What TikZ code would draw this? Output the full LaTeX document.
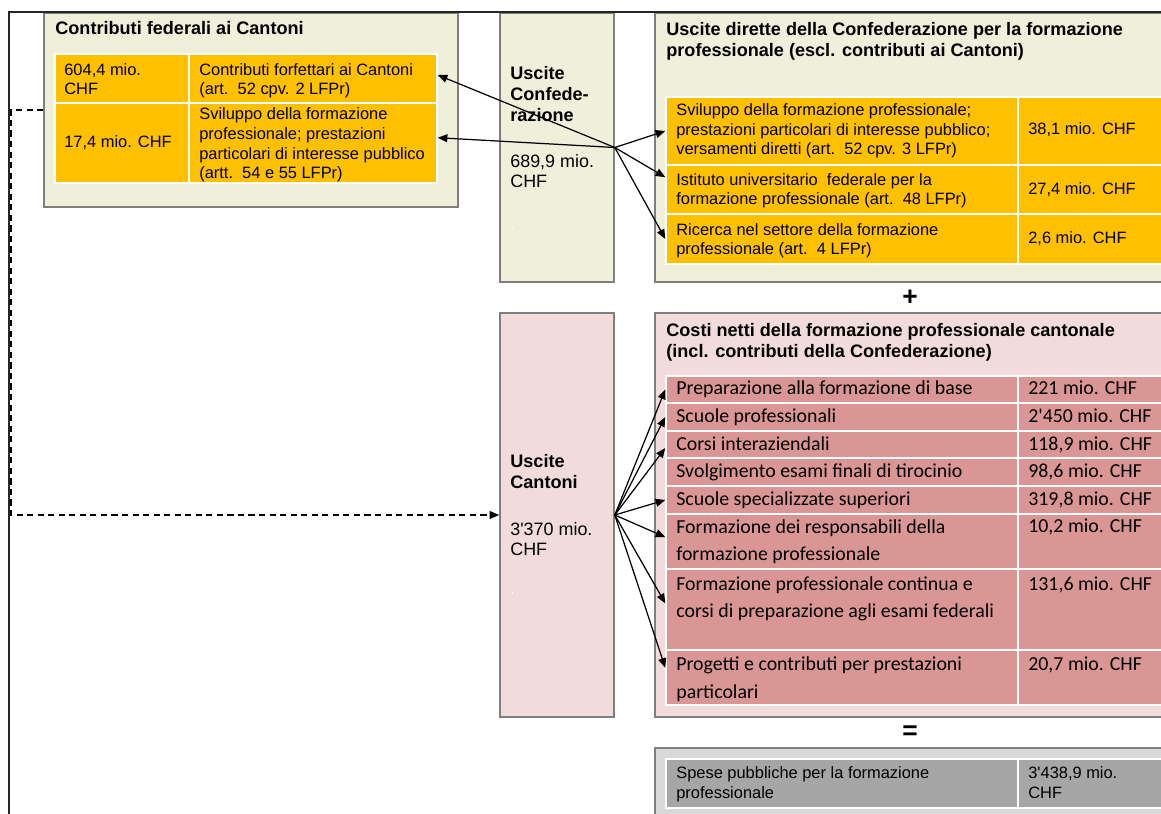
\documentclass[tikz,border=0pt]{standalone}
\usepackage{fontspec}
\setmainfont{Liberation Sans}
\newfontfamily\calibri{Carlito}
\usepackage{tikz}
\usetikzlibrary{positioning, fit, arrows.meta, calc}
\definecolor{fedfill}{HTML}{EFEFDA}
\definecolor{cantfill}{HTML}{F2DCDB}
\definecolor{totfill}{HTML}{D9D9D9}
\definecolor{orangecell}{HTML}{FFC000}
\definecolor{rosecell}{HTML}{DA9694}
\definecolor{graycell}{HTML}{A6A6A6}
\definecolor{panelline}{HTML}{7F7F7F}

\begin{document}
\begin{tikzpicture}[
    x=0.02cm, y=-0.02cm,
    every node/.style={align=left},
    panel/.style={draw=panelline, line width=0.9pt, inner sep=0pt, fill=#1},
    cell/.style={draw=white, line width=0.8pt, inner sep=0pt, fill=#1},
    txt/.style={anchor=base west, inner sep=0pt, font=\fontsize{9.35}{11.34}\selectfont},
    head/.style={txt, font=\fontsize{10.3}{12.2}\selectfont\bfseries},
    sumtxt/.style={txt, font=\fontsize{10.2}{11.9}\selectfont},
    ctxt/.style={txt, font=\fontsize{11.3}{15.9}\calibri},
    arrow/.style={-{Triangle[length=5.5pt, width=4.5pt]}, line width=0.7pt},
    dashline/.style={arrow, dashed, dash pattern=on 3.5pt off 2.5pt}
]
\clip (0,0) rectangle (1161,814);

% Contributi federali ai Cantoni (Anker: Grundlinie der letzten Zeile)
\node[panel=fedfill, fit={(44,13) (458,207)}] (fed) {};
\node[head] (fedtitle) at (55,35) {Contributi federali ai Cantoni};
\node[cell=orangecell, fit={(55,54) (189,103)}] (fed1a) {};
\node[cell=orangecell, fit={(189,54) (437,103)}] (fed1b) {};
\node[cell=orangecell, fit={(55,103) (189,183)}] (fed2a) {};
\node[cell=orangecell, fit={(189,103) (437,183)}] (fed2b) {};
\node[txt] (fed1val) at (64,95) {604,4 mio.\\CHF};
\node[txt] (fed1lab) at (199,95) {Contributi forfettari ai Cantoni\\(art.\ \ 52 cpv. 2 LFPr)};
\node[txt] (fed2val) at (64,148) {17,4 mio. CHF};
\node[txt] (fed2lab) at (199,179) {Sviluppo della formazione\\professionale; prestazioni\\particolari di interesse pubblico\\(artt.\ \ 54 e 55 LFPr)};

% Uscite Confederazione
\node[panel=fedfill, fit={(500,13) (614,282)}] (conf) {};
\node[head] (conftitle) at (510,122) {Uscite\\Confede-\\razione};
\node[sumtxt] (confval) at (510,188) {689,9 mio.\\CHF};
\node[txt, white] (confdot) at (510,229) {.};

% Uscite dirette della Confederazione
\node[panel=fedfill, fit={(655,13) (1180,282)}] (dir) {};
\node[head] (dirtitle) at (666,57) {Uscite dirette della Confederazione per la formazione\\professionale (escl. contributi ai Cantoni)};
\node[cell=orangecell, fit={(666,97) (1018,165)}] (dir1a) {};
\node[cell=orangecell, fit={(1018,97) (1175,165)}] (dir1b) {};
\node[cell=orangecell, fit={(666,165) (1018,214)}] (dir2a) {};
\node[cell=orangecell, fit={(1018,165) (1175,214)}] (dir2b) {};
\node[cell=orangecell, fit={(666,214) (1018,264)}] (dir3a) {};
\node[cell=orangecell, fit={(1018,214) (1175,264)}] (dir3b) {};
\node[txt] (dir1lab) at (676,155) {Sviluppo della formazione professionale;\\prestazioni particolari di interesse pubblico;\\versamenti diretti (art.\ \ 52 cpv. 3 LFPr)};
\node[txt] (dir1val) at (1028,135) {38,1 mio. CHF};
\node[txt] (dir2lab) at (676,205) {Istituto universitario\ \ federale per la\\formazione professionale (art.\ \ 48 LFPr)};
\node[txt] (dir2val) at (1028,195) {27,4 mio. CHF};
\node[txt] (dir3lab) at (676,255) {Ricerca nel settore della formazione\\professionale (art.\ \ 4 LFPr)};
\node[txt] (dir3val) at (1028,244) {2,6 mio. CHF};

\node[font=\fontsize{15}{15}\selectfont\bfseries, inner sep=0pt] (plus) at (910,298) {+};

% Uscite Cantoni
\node[panel=cantfill, fit={(500,313) (614,717)}] (cant) {};
\node[head] (canttitle) at (510,489) {Uscite\\Cantoni};
\node[sumtxt] (cantval) at (510,556) {3\textquotesingle370 mio.\\CHF};
\node[txt, white] (cantdot) at (510,595) {.};

% Costi netti della formazione professionale cantonale
\node[panel=cantfill, fit={(655,313) (1180,717)}] (net) {};
\node[head] (nettitle) at (666,358) {Costi netti della formazione professionale cantonale\\(incl. contributi della Confederazione)};
\foreach \i/\top/\bot/\base/\last/\lab/\val in {
    1/376/403/395/395/{Preparazione alla formazione di base}/{221 mio. CHF},
    2/403/431/423/423/{Scuole professionali}/{2\textquotesingle450 mio. CHF},
    3/431/458/451/451/{Corsi interaziendali}/{118,9 mio. CHF},
    4/458/486/478/478/{Svolgimento esami finali di tirocinio}/{98,6 mio. CHF},
    5/486/514/506/506/{Scuole specializzate superiori}/{319,8 mio. CHF},
    6/514/569/533/561/{Formazione dei responsabili della\\formazione professionale}/{10,2 mio. CHF},
    7/569/650/590/618/{Formazione professionale continua e\\corsi di preparazione agli esami federali}/{131,6 mio. CHF},
    8/650/705/670/698/{Progetti e contributi per prestazioni\\particolari}/{20,7 mio. CHF}}{
    \node[cell=rosecell, fit={(666,\top) (1018,\bot)}] (net\i a) {};
    \node[cell=rosecell, fit={(1018,\top) (1175,\bot)}] (net\i b) {};
    \node[ctxt] (net\i lab) at (676,\last) {\lab};
    \node[ctxt] (net\i val) at (1028,\base) {\val};
}

\node[font=\fontsize{15}{15}\selectfont\bfseries, inner sep=0pt] (eq) at (910,733) {=};

% Spese pubbliche
\node[panel=totfill, fit={(655,748) (1180,830)}] (tot) {};
\node[cell=graycell, fit={(666,759) (1018,808)}] (tot1a) {};
\node[cell=graycell, fit={(1018,759) (1175,808)}] (tot1b) {};
\node[txt] (totlab) at (676,798) {Spese pubbliche per la formazione\\professionale};
\node[txt] (totval) at (1028,798) {3\textquotesingle438,9 mio.\\CHF};

% Rahmen
\draw[line width=1.6pt, black!85] (9,830) -- (9,12) -- (1175,12);

% Pfeile
\draw[arrow] (conf.east) -- ([yshift=2pt]fed1b.east);
\draw[arrow] (conf.east) -- ([yshift=3pt]fed2b.east);
\draw[arrow] (conf.east) -- (dir1a.west);
\draw[arrow] (conf.east) -- ([yshift=7pt]dir2a.west);
\draw[arrow] (conf.east) -- (dir3a.west);
\foreach \i/\s in {1/0, 2/0, 3/-2, 5/0, 6/2.5, 7/3.5, 8/5.5}
    \draw[arrow] (cant.east) -- ([yshift=\s pt]net\i a.west);

% gestrichelte Verbindung
\coordinate (dashbend) at (11,515);
\draw[dashline] (fed.west) -| (dashbend) -- (cant.west);

\end{tikzpicture}
\end{document}
